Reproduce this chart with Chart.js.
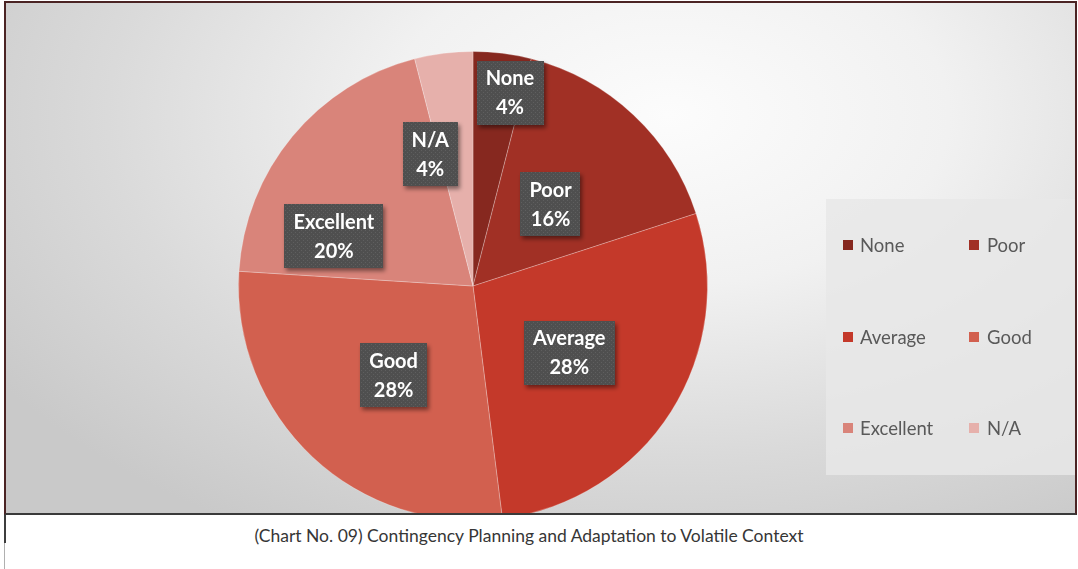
<!DOCTYPE html>
<html>
<head>
<meta charset="utf-8">
<script src="https://cdn.jsdelivr.net/npm/chart.js@4"></script>
<style>
  body { margin: 0; background: #ffffff; width: 1078px; height: 569px; overflow: hidden; position: relative; }
  #frame {
    position: absolute; left: 4px; top: 1px; width: 1069px; height: 510px; overflow: hidden;
    border: 2px solid #4b2424; border-bottom-color: #3a3a3a;
    background: radial-gradient(ellipse 75% 95% at 62% 22%, #fcfcfc 0%, #f1f1f1 35%, #dadada 70%, #c9c9c9 100%);
  }
  #chartWrap { position: absolute; left: 0; top: 0; width: 1069px; height: 530px; }
  #leftTail { position: absolute; left: 4px; top: 515px; width: 2px; height: 28px; background: #3d3d3d; }
  #leftTail2 { position: absolute; left: 4px; top: 543px; width: 1px; height: 26px; background: #b0b0b0; }
  #caption {
    position: absolute; left: -10px; width: 1078px; top: 525px; text-align: center;
    font-family: Lato, sans-serif; font-size: 17.5px; color: #363636;
  }
</style>
</head>
<body>
<div id="frame"><div id="chartWrap"><canvas id="pieChart"></canvas></div></div>
<div id="leftTail"></div><div id="leftTail2"></div>
<div id="caption">(Chart No. 09) Contingency Planning and Adaptation to Volatile Context</div>
<script>
var categories = ['None', 'Poor', 'Average', 'Good', 'Excellent', 'N/A'];
var percents = [4, 16, 28, 28, 20, 4];
var sliceColors = ['#86281f', '#a13025', '#c4392a', '#d2604f', '#d9847a', '#e6b0ab'];

// where each value box sits: angle shift from the slice middle (deg) and fraction of the radius
var labelSpots = [[3.6, 0.84], [0.4, 0.48], [2.4, 0.50], [-1.6, 0.51], [-20, 0.63], [-10.8, 0.59]];

document.addEventListener('DOMContentLoaded', function () {
  var ctx = document.getElementById('pieChart').getContext('2d');

  // speckled dark fill used behind the value labels
  var tile = document.createElement('canvas');
  tile.width = 4; tile.height = 4;
  var tctx = tile.getContext('2d');
  tctx.fillStyle = '#4f4f4f';
  tctx.fillRect(0, 0, 4, 4);
  tctx.fillStyle = '#5f5f5f';
  tctx.fillRect(1, 1, 1, 1);
  tctx.fillRect(3, 3, 1, 1);
  var boxPattern = ctx.createPattern(tile, 'repeat');

  var valueBoxes = {
    id: 'valueBoxes',
    afterDatasetsDraw: function (chart) {
      var c = chart.ctx;
      var meta = chart.getDatasetMeta(0);
      c.save();
      c.font = 'bold 20px Lato, sans-serif';
      c.textAlign = 'center';
      c.textBaseline = 'middle';
      meta.data.forEach(function (arc, i) {
        var mid = (arc.startAngle + arc.endAngle) / 2 + labelSpots[i][0] * Math.PI / 180;
        var r = arc.outerRadius * labelSpots[i][1];
        var x = arc.x + Math.cos(mid) * r;
        var y = arc.y + Math.sin(mid) * r;
        var line1 = categories[i];
        var line2 = percents[i] + '%';
        var w = Math.max(c.measureText(line1).width, c.measureText(line2).width) + 18;
        var h = 64;
        c.save();
        c.shadowColor = 'rgba(0,0,0,0.45)';
        c.shadowBlur = 4;
        c.shadowOffsetX = 2;
        c.shadowOffsetY = 3;
        c.fillStyle = boxPattern;
        c.fillRect(Math.round(x - w / 2), Math.round(y - h / 2), Math.round(w), h);
        c.restore();
        c.fillStyle = '#ffffff';
        c.fillText(line1, x, y - 14);
        c.fillText(line2, x, y + 15);
      });
      c.restore();
    }
  };

  // two-column legend panel on the right
  var sideLegend = {
    id: 'sideLegend',
    afterDraw: function (chart) {
      var c = chart.ctx;
      c.save();
      c.fillStyle = 'rgba(232,232,232,0.85)';
      c.fillRect(820, 196, 249, 276);
      c.font = '18.5px Lato, sans-serif';
      c.textBaseline = 'middle';
      c.textAlign = 'left';
      var rows = [242, 334, 425];
      var markX = [837, 963];
      var textX = [854, 981];
      categories.forEach(function (name, i) {
        var col = i % 2;
        var y = rows[Math.floor(i / 2)];
        c.fillStyle = sliceColors[i];
        c.fillRect(markX[col], y - 5, 10, 10);
        c.fillStyle = '#595959';
        c.fillText(name, textX[col], y + 1);
      });
      c.restore();
    }
  };

  new Chart(ctx, {
    type: 'pie',
    data: {
      labels: categories,
      datasets: [{
        data: percents,
        backgroundColor: sliceColors,
        borderColor: 'rgba(255,255,255,0.25)',
        borderWidth: 1
      }]
    },
    options: {
      responsive: true,
      maintainAspectRatio: false,
      animation: false,
      layout: { padding: { left: 232, right: 367, top: 48, bottom: 12 } },
      plugins: {
        legend: { display: false },
        tooltip: { enabled: false }
      }
    },
    plugins: [valueBoxes, sideLegend]
  });
});
</script>
</body>
</html>
